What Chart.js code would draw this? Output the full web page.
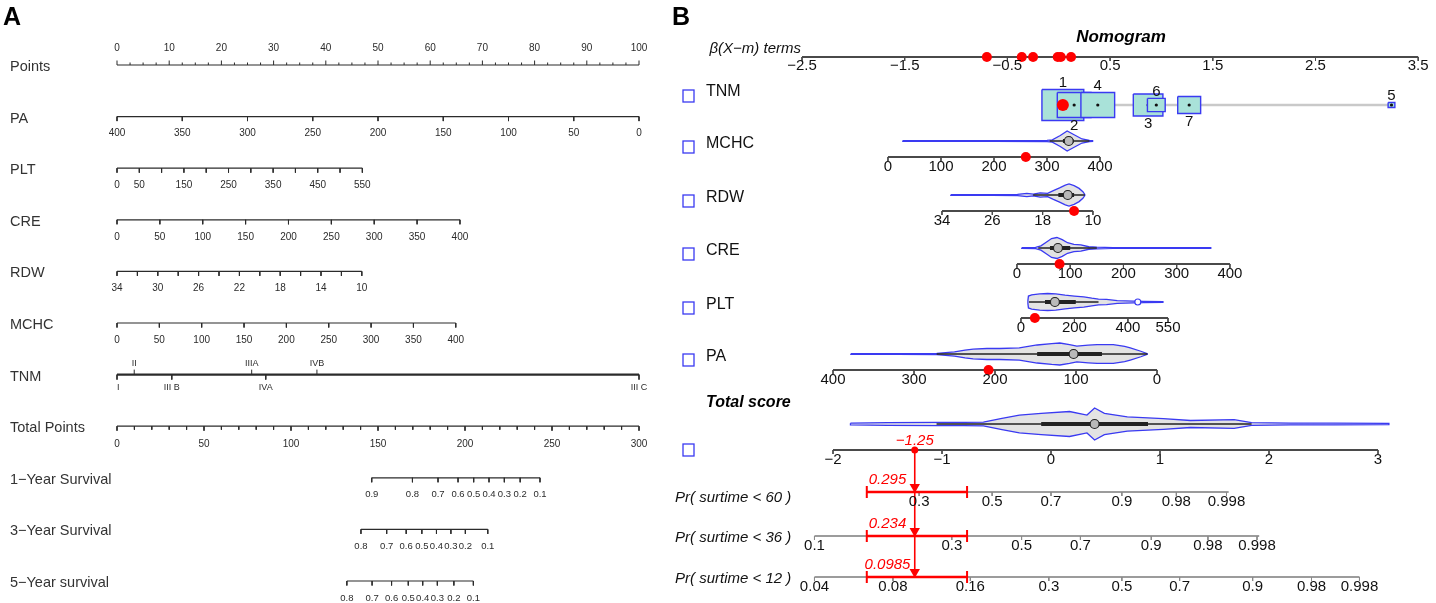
<!DOCTYPE html>
<html lang="en">
<head>
<meta charset="UTF-8">
<title>Nomogram</title>
<script src="https://cdn.jsdelivr.net/npm/chart.js@4"></script>
<style>
  html, body { margin: 0; padding: 0; background: #fff; }
  #wrap { position: relative; width: 1436px; height: 603px; }
</style>
</head>
<body>
<div id="wrap"><canvas id="nomo" width="1436" height="603"></canvas></div>
<script>
// ---------------- Panel A : points nomogram ----------------
const pointsTicks = [0, 10, 20, 30, 40, 50, 60, 70, 80, 90, 100];

const paTicks = [400, 350, 300, 250, 200, 150, 100, 50, 0];
const paLabels = ['400', '350', '300', '250', '200', '150', '100', '50', '0'];
const paEnds = [400, 0];
const paEndPoints = [0, 100];

const pltTicks = [0, 50, 100, 150, 200, 250, 300, 350, 400, 450, 500, 550];
const pltLabels = ['0', '50', '', '150', '', '250', '', '350', '', '450', '', '550'];
const pltEnds = [0, 550];
const pltEndPoints = [0, 47.0];

const creTicks = [0, 50, 100, 150, 200, 250, 300, 350, 400];
const creLabels = ['0', '50', '100', '150', '200', '250', '300', '350', '400'];
const creEnds = [0, 400];
const creEndPoints = [0, 65.7];

const rdwTicks = [34, 32, 30, 28, 26, 24, 22, 20, 18, 16, 14, 12, 10];
const rdwLabels = ['34', '', '30', '', '26', '', '22', '', '18', '', '14', '', '10'];
const rdwEnds = [34, 10];
const rdwEndPoints = [0, 46.9];

const mchcTicks = [0, 50, 100, 150, 200, 250, 300, 350, 400];
const mchcLabels = ['0', '50', '100', '150', '200', '250', '300', '350', '400'];
const mchcEnds = [0, 400];
const mchcEndPoints = [0, 64.9];

const tnmStages = ['I', 'II', 'III B', 'IIIA', 'IVA', 'IVB', 'III C'];
const tnmPoints = [0, 3.3, 10.5, 25.8, 28.5, 38.3, 100];
const tnmAbove = [false, true, false, true, false, true, false];

const totalTicks = [0, 50, 100, 150, 200, 250, 300];

const surv1Labels = ['0.9', '0.8', '0.7', '0.6', '0.5', '0.4', '0.3', '0.2', '0.1'];
const surv1Total = [146.4, 169.8, 184.5, 196.0, 205.0, 213.8, 222.6, 231.7, 243.1];
const surv3Labels = ['0.8', '0.7', '0.6', '0.5', '0.4', '0.3', '0.2', '0.1'];
const surv3Total = [140.2, 155.0, 166.2, 175.2, 183.6, 191.9, 200.2, 213.1];
const surv5Labels = ['0.8', '0.7', '0.6', '0.5', '0.4', '0.3', '0.2', '0.1'];
const surv5Total = [132.1, 146.6, 157.8, 167.4, 175.7, 184.1, 193.6, 204.8];

// ---------------- Panel B : regplot-style nomogram ----------------
const betaTicks = [-2.5, -1.5, -0.5, 0.5, 1.5, 2.5, 3.5];
const betaLabels = ['−2.5', '−1.5', '−0.5', '0.5', '1.5', '2.5', '3.5'];
const betaPatient = [-0.70, -0.36, -0.25, -0.01, 0.02, 0.12];

const tnmCodes = ['1', '2', '3', '4', '5', '6', '7'];
const tnmBeta = [0.04, 0.15, 0.87, 0.38, 3.24, 0.95, 1.27];
const tnmShare = [1.0, 0.65, 0.5, 0.65, 0.026, 0.18, 0.3];
const tnmLabelAbove = [true, false, false, true, true, true, false];
const tnmPatient = '1';

const mchcB_ticks = [0, 100, 200, 300, 400];
const mchcB_beta = [-1.663, 0.402];
const mchcB_vals = [28, 200, 300, 310, 325, 338, 352, 366, 380, 386];
const mchcB_dens = [0.04, 0.04, 0.06, 0.12, 0.55, 1.0, 0.6, 0.2, 0.06, 0.03];
const mchcB_box = [305, 330, 341, 350, 380];
const mchcB_patient = 260;

const rdwB_ticks = [34, 26, 18, 10];
const rdwB_beta = [-1.137, 0.333];
const rdwB_vals = [32.6, 26, 22, 20.5, 19.5, 18.4, 17.2, 16.3, 15.3, 14.4, 13.8, 13.0, 12.2, 11.6, 11.3];
const rdwB_dens = [0.03, 0.03, 0.05, 0.15, 0.08, 0.2, 0.15, 0.4, 0.65, 0.9, 1.0, 0.85, 0.6, 0.3, 0.05];
const rdwB_box = [11.3, 13.0, 14.0, 15.5, 19.5];
const rdwB_patient = 13;

const creB_ticks = [0, 100, 200, 300, 400];
const creB_beta = [-0.407, 1.667];
const creB_vals = [9, 35, 45, 55, 65, 75, 85, 95, 107, 120, 135, 150, 180, 250, 364];
const creB_dens = [0.03, 0.05, 0.2, 0.55, 0.9, 1.0, 0.8, 0.5, 0.35, 0.3, 0.12, 0.08, 0.04, 0.03, 0.03];
const creB_box = [40, 62, 77, 100, 150];
const creB_patient = 80;

const pltB_ticks = [0, 200, 400, 550];
const pltB_beta = [-0.368, 1.064];
const pltB_vals = [26, 28, 40, 70, 100, 130, 165, 200, 235, 265, 290, 320, 360, 420, 460, 531];
const pltB_dens = [0.2, 0.7, 0.85, 0.95, 1.0, 0.95, 0.8, 0.7, 0.6, 0.45, 0.35, 0.3, 0.15, 0.1, 0.06, 0.03];
const pltB_box = [30, 90, 127, 205, 290];
const pltB_outliers = [437];
const pltB_patient = 52;

const paB_ticks = [400, 300, 200, 100, 0];
const paB_beta = [-2.198, 0.957];
const paB_vals = [378, 320, 272, 250, 237, 227, 210, 194, 170, 148, 130, 120, 108, 99, 85, 74, 54, 40, 33, 20, 12];
const paB_dens = [0.03, 0.03, 0.05, 0.2, 0.36, 0.45, 0.5, 0.5, 0.55, 0.82, 0.95, 1.0, 0.85, 0.72, 0.8, 0.86, 0.86, 0.7, 0.55, 0.25, 0.03];
const paB_box = [12, 68, 103, 148, 272];
const paB_patient = 208;

const scoreTicks = [-2, -1, 0, 1, 2, 3];
const scoreLabels = ['−2', '−1', '0', '1', '2', '3'];
const score_vals = [-1.84, -1.5, -1.05, -0.8, -0.62, -0.45, -0.29, -0.09, 0.17, 0.33, 0.40, 0.49, 0.70, 1.03, 1.28, 1.68, 1.84, 2.2, 2.6, 3.1];
const score_dens = [0.05, 0.08, 0.1, 0.1, 0.12, 0.35, 0.56, 0.67, 0.78, 0.56, 1.0, 0.67, 0.45, 0.34, 0.22, 0.27, 0.09, 0.06, 0.05, 0.04];
const score_box = [-1.05, -0.09, 0.40, 0.89, 1.84];
const scorePatient = -1.25;
const scoreCI = [-1.69, -0.77];

const pr60Labels = ['0.3', '0.5', '0.7', '0.9', '0.98', '0.998'];
const pr60Score = [-1.21, -0.54, 0.0, 0.65, 1.15, 1.61];
const pr60Range = [-1.69, 1.63];
const pr36Labels = ['0.1', '0.3', '0.5', '0.7', '0.9', '0.98', '0.998'];
const pr36Score = [-2.17, -0.91, -0.27, 0.27, 0.92, 1.44, 1.89];
const pr36Range = [-2.17, 1.91];
const pr12Labels = ['0.04', '0.08', '0.16', '0.3', '0.5', '0.7', '0.9', '0.98', '0.998'];
const pr12Score = [-2.17, -1.45, -0.74, -0.02, 0.65, 1.18, 1.85, 2.39, 2.83];
const pr12Range = [-2.17, 2.83];
const prPatient = ['0.295', '0.234', '0.0985'];

// ---------------- layout / helpers ----------------
const W = 1436, H = 603;
const FONT = '"Liberation Sans", Arial, Helvetica, sans-serif';
const PXA = 5.22, PXT = 1.74, PXB = 102.7, PXS = 109;
const BLUE = '#3a3af2', RED = '#ff0000';

const datasets = [];
const texts = [];
const checkboxes = [];
let k = 0;

function add(d) {
  d.type = 'line';
  d.yAxisID = 'y';
  d.order = -(k++);
  if (d.pointRadius === undefined) d.pointRadius = 0;
  if (d.fill === undefined) d.fill = false;
  datasets.push(d);
}
function line(xid, xs, ys, color, width) {
  add({ xAxisID: xid, data: xs.map((x, i) => ({ x, y: ys[i] })), borderColor: color, borderWidth: width });
}
function tickMarks(xid, xs, y, len, color, width) {
  const data = [];
  xs.forEach(x => data.push({ x, y }, { x, y: y + len }, { x, y: null }));
  add({ xAxisID: xid, data, borderColor: color, borderWidth: width, spanGaps: false });
}
function dots(xid, xs, y, r, fillColor, borderColor, bw, style, rot) {
  add({ xAxisID: xid, data: xs.map(x => ({ x, y })), showLine: false, pointRadius: r,
        pointBackgroundColor: fillColor, pointBorderColor: borderColor, pointBorderWidth: bw || 0,
        pointStyle: style || 'circle', pointRotation: rot || 0 });
}
function text(xid, x, y, str, opt) {
  texts.push(Object.assign({ xid, x, y, str, size: 10, weight: '', style: '', color: '#2b2b2b', align: 'center', base: 'middle' }, opt || {}));
}
function linMap(ends, to) {
  return v => to[0] + (v - ends[0]) * (to[1] - to[0]) / (ends[1] - ends[0]);
}

// ===== Panel A =====
const AX = '#2b2b2b';
const aRow = i => 65 + i * 51.6;
const aLabel = { size: 14.5, align: 'left', color: '#333' };
text(null, 3, 18, 'A', { size: 25, weight: 'bold', align: 'left', color: '#000' });

// Points
{
  const y = aRow(0);
  line('xA', [0, 100], [y, y], AX, 1.2);
  const minor = [];
  for (let v = 0; v <= 100; v += 2.5) if (v % 10 !== 0) minor.push(v);
  tickMarks('xA', minor, y, -2.5, AX, 1);
  tickMarks('xA', pointsTicks, y, -4.5, AX, 1);
  pointsTicks.forEach(v => text('xA', v, y - 17, String(v)));
  text(null, 10, y + 2, 'Points', aLabel);
}

const varsA = [
  { name: 'PA', ticks: paTicks, labels: paLabels, ends: paEnds, pts: paEndPoints },
  { name: 'PLT', ticks: pltTicks, labels: pltLabels, ends: pltEnds, pts: pltEndPoints },
  { name: 'CRE', ticks: creTicks, labels: creLabels, ends: creEnds, pts: creEndPoints },
  { name: 'RDW', ticks: rdwTicks, labels: rdwLabels, ends: rdwEnds, pts: rdwEndPoints },
  { name: 'MCHC', ticks: mchcTicks, labels: mchcLabels, ends: mchcEnds, pts: mchcEndPoints }
];
varsA.forEach((v, j) => {
  const y = aRow(j + 1);
  const f = linMap(v.ends, v.pts);
  const xs = v.ticks.map(f);
  line('xA', [f(v.ends[0]), f(v.ends[1])], [y, y], AX, 1.2);
  tickMarks('xA', xs, y, 4.5, AX, 1);
  v.labels.forEach((lab, i) => { if (lab) text('xA', xs[i], y + 17, lab); });
  text(null, 10, y + 2, v.name, aLabel);
});

// TNM
{
  const y = aRow(6);
  line('xA', [0, 100], [y, y], AX, 2.2);
  tnmPoints.forEach((p, i) => {
    const up = tnmAbove[i];
    tickMarks('xA', [p], y, up ? -5 : 5, AX, 1);
    text('xA', p, up ? y - 11 : y + 13, tnmStages[i], { size: 9, align: i === 0 ? 'left' : 'center' });
  });
  text(null, 10, y + 2, 'TNM', aLabel);
}

// Total points
{
  const y = aRow(7);
  line('xT', [0, 300], [y, y], AX, 1.2);
  const minor = [];
  for (let v = 0; v <= 300; v += 10) if (v % 50 !== 0) minor.push(v);
  tickMarks('xT', minor, y, 3.5, AX, 1);
  tickMarks('xT', totalTicks, y, 4.5, AX, 1);
  totalTicks.forEach(v => text('xT', v, y + 18, String(v)));
  text(null, 10, y + 2, 'Total Points', aLabel);
}

[[surv1Labels, surv1Total, '1−Year Survival'],
 [surv3Labels, surv3Total, '3−Year Survival'],
 [surv5Labels, surv5Total, '5−Year survival']].forEach(([labs, tot, name], j) => {
  const y = aRow(8 + j);
  line('xT', [tot[0], tot[tot.length - 1]], [y, y], AX, 1.2);
  tickMarks('xT', tot, y, 4.5, AX, 1);
  labs.forEach((lab, i) => text('xT', tot[i], y + 17, lab, { size: 9.5 }));
  text(null, 10, y + 2, name, aLabel);
});

// ===== Panel B =====
const BX = '#4a4a4a';
const bTick = { size: 15, base: 'top', color: '#111' };
const bLabel = { size: 16, align: 'left', color: '#111' };
text(null, 672, 18, 'B', { size: 25, weight: 'bold', align: 'left', color: '#000' });
text(null, 1121, 37, 'Nomogram', { size: 17, weight: 'bold', style: 'italic', color: '#000' });
text(null, 801, 49, 'β(X−m) terms', { size: 15, style: 'italic', align: 'right', color: '#111' });

// beta axis
line('xB', [betaTicks[0], betaTicks[betaTicks.length - 1]], [57, 57], BX, 2);
tickMarks('xB', betaTicks, 57, 4, BX, 1);
betaTicks.forEach((v, i) => text('xB', v, 58, betaLabels[i], bTick));
dots('xB', betaPatient, 57, 5, RED, RED);

// TNM boxes
{
  const y = 105;
  line('xB', [Math.min(...tnmBeta), Math.max(...tnmBeta)], [y, y], '#c9c9c9', 2.5);
  const order = tnmBeta.map((b, i) => i).sort((a, b) => tnmBeta[a] - tnmBeta[b]);
  order.forEach(i => {
    const h = 15.5 * Math.sqrt(tnmShare[i]);
    const w = (1.35 * h) / PXB;
    const c = tnmBeta[i];
    add({ xAxisID: 'xB', fill: 'shape', backgroundColor: '#a9e2d9', borderColor: BLUE, borderWidth: 1.4,
          data: [{ x: c - w, y: y - h }, { x: c + w, y: y - h }, { x: c + w, y: y + h }, { x: c - w, y: y + h }, { x: c - w, y: y - h }] });
    dots('xB', [c], y, 1.6, '#111', '#111');
    text('xB', c, tnmLabelAbove[i] ? y - h - 7 : y + h + 8, tnmCodes[i], { size: 15, color: '#111' });
  });
  dots('xB', [tnmBeta[tnmCodes.indexOf(tnmPatient)]], y, 6, RED, RED);
  text(null, 706, 92, 'TNM', bLabel);
  checkboxes.push(96);
}

function violinRow(xid, map, vals, dens, y, peak, box) {
  const top = vals.map((v, i) => ({ x: map(v), y: y - dens[i] * peak }));
  const bot = vals.map((v, i) => ({ x: map(v), y: y + dens[i] * peak })).reverse();
  add({ xAxisID: xid, fill: 'shape', backgroundColor: 'rgba(200,200,200,0.5)', borderColor: BLUE, borderWidth: 1.3,
        data: top.concat(bot, [top[0]]) });
  line(xid, [map(box[0]), map(box[4])], [y, y], '#222', 1.5);
  line(xid, [map(box[1]), map(box[3])], [y, y], '#222', 4);
  dots(xid, [map(box[2])], y, 4.5, '#b9b9b9', '#222', 1.2);
}

const varsB = [
  { name: 'MCHC', ticks: mchcB_ticks, beta: mchcB_beta, vals: mchcB_vals, dens: mchcB_dens, box: mchcB_box, pat: mchcB_patient, out: [], vy: 141, peak: 10 },
  { name: 'RDW', ticks: rdwB_ticks, beta: rdwB_beta, vals: rdwB_vals, dens: rdwB_dens, box: rdwB_box, pat: rdwB_patient, out: [], vy: 195, peak: 11 },
  { name: 'CRE', ticks: creB_ticks, beta: creB_beta, vals: creB_vals, dens: creB_dens, box: creB_box, pat: creB_patient, out: [], vy: 248, peak: 10.5 },
  { name: 'PLT', ticks: pltB_ticks, beta: pltB_beta, vals: pltB_vals, dens: pltB_dens, box: pltB_box, pat: pltB_patient, out: pltB_outliers, vy: 302, peak: 8.5 },
  { name: 'PA', ticks: paB_ticks, beta: paB_beta, vals: paB_vals, dens: paB_dens, box: paB_box, pat: paB_patient, out: [], vy: 354, peak: 11 }
];
varsB.forEach(v => {
  const ends = [v.ticks[0], v.ticks[v.ticks.length - 1]];
  const map = linMap(ends, v.beta);
  const ay = v.vy + 16;
  violinRow('xB', map, v.vals, v.dens, v.vy, v.peak, v.box);
  if (v.out.length) dots('xB', v.out.map(map), v.vy, 3, '#fff', BLUE, 1.2);
  line('xB', v.beta, [ay, ay], BX, 2);
  tickMarks('xB', v.ticks.map(map), ay, 4, BX, 1);
  v.ticks.forEach(t => text('xB', map(t), ay + 2, String(t), bTick));
  dots('xB', [map(v.pat)], ay, 5, RED, RED);
  text(null, 706, v.vy + 3, v.name, bLabel);
  checkboxes.push(v.vy + 6);
});

// Total score
{
  const vy = 424, ay = 450;
  text(null, 706, 403, 'Total score', { size: 16, weight: 'bold', style: 'italic', align: 'left', color: '#000' });
  violinRow('xS', s => s, score_vals, score_dens, vy, 16, score_box);
  line('xS', [scoreTicks[0], scoreTicks[scoreTicks.length - 1]], [ay, ay], BX, 2);
  tickMarks('xS', scoreTicks, ay, 4, BX, 1);
  scoreTicks.forEach((t, i) => text('xS', t, ay + 2, scoreLabels[i], bTick));
  checkboxes.push(ay);
}

// Probability axes
const prRows = [
  { name: 'Pr( surtime < 60 )', labels: pr60Labels, score: pr60Score, range: pr60Range, y: 492, ly: 498 },
  { name: 'Pr( surtime < 36 )', labels: pr36Labels, score: pr36Score, range: pr36Range, y: 536, ly: 538 },
  { name: 'Pr( surtime < 12 )', labels: pr12Labels, score: pr12Score, range: pr12Range, y: 577, ly: 579 }
];
prRows.forEach(r => {
  line('xS', r.range, [r.y, r.y], '#9c9c9c', 2);
  tickMarks('xS', r.score, r.y, 4, '#8a8a8a', 1);
  r.labels.forEach((lab, i) => text('xS', r.score[i], r.y + 2, lab, bTick));
  text(null, 675, r.ly, r.name, { size: 15, style: 'italic', align: 'left', color: '#111' });
});

// patient prediction (red)
line('xS', [scorePatient, scorePatient], [450, prRows[2].y], RED, 1.6);
dots('xS', [scorePatient], 450, 3.5, RED, RED);
text('xS', scorePatient, 441, '−1.25', { size: 15, style: 'italic', color: RED });
prRows.forEach((r, i) => {
  line('xS', scoreCI, [r.y, r.y], RED, 2.5);
  tickMarks('xS', scoreCI, r.y - 6, 12, RED, 2);
  dots('xS', [scorePatient], r.y - 5, 6, RED, RED, 0, 'triangle', 180);
  text('xS', -1.5, r.y - 12, prPatient[i], { size: 15, style: 'italic', color: RED });
});

// ---------------- chart ----------------
const labelPlugin = {
  id: 'nomoText',
  afterDatasetsDraw(chart) {
    const ctx = chart.ctx;
    const yS = chart.scales.y;
    ctx.save();
    texts.forEach(t => {
      const px = t.xid ? chart.scales[t.xid].getPixelForValue(t.x) : t.x;
      const py = yS.getPixelForValue(t.y);
      ctx.font = `${t.style} ${t.weight} ${t.size}px ${FONT}`;
      ctx.fillStyle = t.color;
      ctx.textAlign = t.align;
      ctx.textBaseline = t.base;
      ctx.fillText(t.str, px, py);
    });
    ctx.strokeStyle = BLUE;
    ctx.lineWidth = 1.3;
    checkboxes.forEach(cy => {
      const py = yS.getPixelForValue(cy);
      ctx.strokeRect(683, py - 6, 11, 12);
    });
    ctx.restore();
  }
};

new Chart(document.getElementById('nomo'), {
  type: 'line',
  data: { datasets },
  options: {
    responsive: false,
    animation: false,
    layout: { padding: 0, autoPadding: false },
    elements: { point: { radius: 0, hoverRadius: 0 }, line: { tension: 0 } },
    plugins: { legend: { display: false }, tooltip: { enabled: false } },
    events: [],
    scales: {
      y: { type: 'linear', min: 0, max: H, reverse: true, display: false },
      xA: { type: 'linear', axis: 'x', min: -117 / PXA, max: (W - 117) / PXA, display: false },
      xT: { type: 'linear', axis: 'x', min: -117 / PXT, max: (W - 117) / PXT, display: false },
      xB: { type: 'linear', axis: 'x', min: -2.5 - 802 / PXB, max: -2.5 + (W - 802) / PXB, display: false },
      xS: { type: 'linear', axis: 'x', min: -2 - 833 / PXS, max: -2 + (W - 833) / PXS, display: false }
    }
  },
  plugins: [labelPlugin]
});
</script>
</body>
</html>
